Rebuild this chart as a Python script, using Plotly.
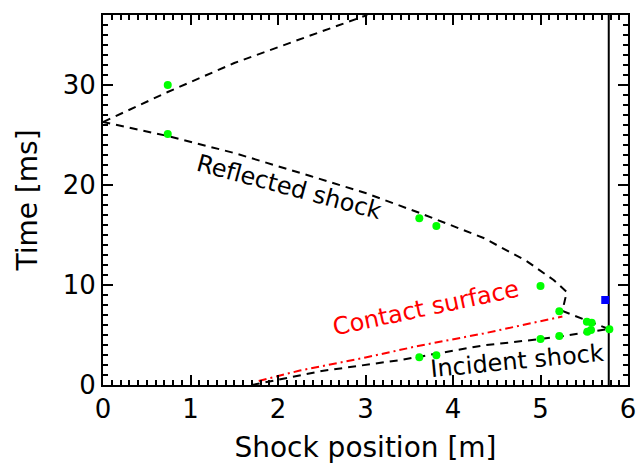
import plotly.graph_objects as go

# Wave diagram of a shock tube: shock trajectories in the x-t plane
incident_x = [1.70, 2.50, 3.40, 4.34, 5.00, 5.22, 5.78]
incident_t = [0.0, 1.4, 2.5, 3.95, 4.6, 4.85, 5.6]

contact_x = [1.78, 2.25, 3.00, 3.60, 4.35, 5.25]
contact_t = [0.4, 1.45, 2.75, 3.9, 5.15, 6.85]

reflected_x = [5.78, 5.25, 5.30, 5.15, 4.84, 4.35, 3.62, 3.00, 2.37, 1.50, 0.74, 0.0]
reflected_t = [5.6, 7.4, 9.3, 10.5, 12.4, 14.7, 17.2, 19.2, 20.9, 23.2, 24.9, 26.3]

rereflected_x = [0.0, 0.74, 1.50, 2.48, 3.02]
rereflected_t = [26.3, 29.3, 32.2, 35.3, 37.0]

wall_x = [5.78, 5.78]
wall_t = [0.0, 37.0]

measured_x = [0.74, 0.74, 3.615, 3.81, 5.0, 5.215, 5.53, 5.585, 5.535, 5.577,
              5.787, 5.0, 5.215, 3.615, 3.81]
measured_t = [30.0, 25.1, 16.67, 15.9, 9.9, 7.37, 6.33, 6.23, 5.33, 5.5,
              5.57, 4.6, 4.9, 2.77, 2.97]

marker_x = [5.74]
marker_t = [8.5]

FONT = "DejaVu Sans"
BLACK_DASH = "8px,6px"

fig = go.Figure()

fig.add_trace(go.Scatter(x=wall_x, y=wall_t, mode="lines",
                         line=dict(color="black", width=2)))
for xs, ts in [(incident_x, incident_t), (reflected_x, reflected_t),
               (rereflected_x, rereflected_t)]:
    fig.add_trace(go.Scatter(x=xs, y=ts, mode="lines",
                             line=dict(color="black", width=2, dash=BLACK_DASH)))
fig.add_trace(go.Scatter(x=contact_x, y=contact_t, mode="lines",
                         line=dict(color="red", width=2, dash="8px,4px,2px,4px")))
fig.add_trace(go.Scatter(x=measured_x, y=measured_t, mode="markers",
                         marker=dict(color="#00ff00", size=8, line=dict(width=0))))
fig.add_trace(go.Scatter(x=marker_x, y=marker_t, mode="markers",
                         marker=dict(color="#0000ff", size=8, symbol="square",
                                     line=dict(width=0))))

fig.add_annotation(x=2.12, y=19.8, text="Reflected shock", showarrow=False,
                   textangle=15, font=dict(family=FONT, size=24, color="black"))
fig.add_annotation(x=3.69, y=7.7, text="Contact surface", showarrow=False,
                   textangle=-12, font=dict(family=FONT, size=24, color="red"))
fig.add_annotation(x=4.73, y=2.4, text="Incident shock", showarrow=False,
                   textangle=-5.5, font=dict(family=FONT, size=24, color="black"))

axis_common = dict(
    showgrid=False, zeroline=False, showline=True, linecolor="black",
    linewidth=2, mirror="allticks", ticks="inside", ticklen=10, tickwidth=1.5,
    tickcolor="black", tickfont=dict(family=FONT, size=26, color="black"),
    automargin=False,
)

fig.update_xaxes(range=[0, 6], dtick=1, tick0=0,
                 minor=dict(dtick=0.1, ticks="inside", ticklen=5,
                            tickwidth=1.5, tickcolor="black"),
                 title=dict(text="Shock position [m]", standoff=14,
                            font=dict(family=FONT, size=28, color="black")),
                 **axis_common)
fig.update_yaxes(range=[0, 37], dtick=10, tick0=0,
                 minor=dict(dtick=1, ticks="inside", ticklen=5,
                            tickwidth=1.5, tickcolor="black"),
                 title=dict(text="Time [ms]", standoff=17,
                            font=dict(family=FONT, size=28, color="black")),
                 **axis_common)

fig.update_layout(
    width=637, height=465,
    margin=dict(l=103, r=9, t=15, b=80),
    paper_bgcolor="white", plot_bgcolor="white",
    showlegend=False,
)

fig.write_html("out.html")
